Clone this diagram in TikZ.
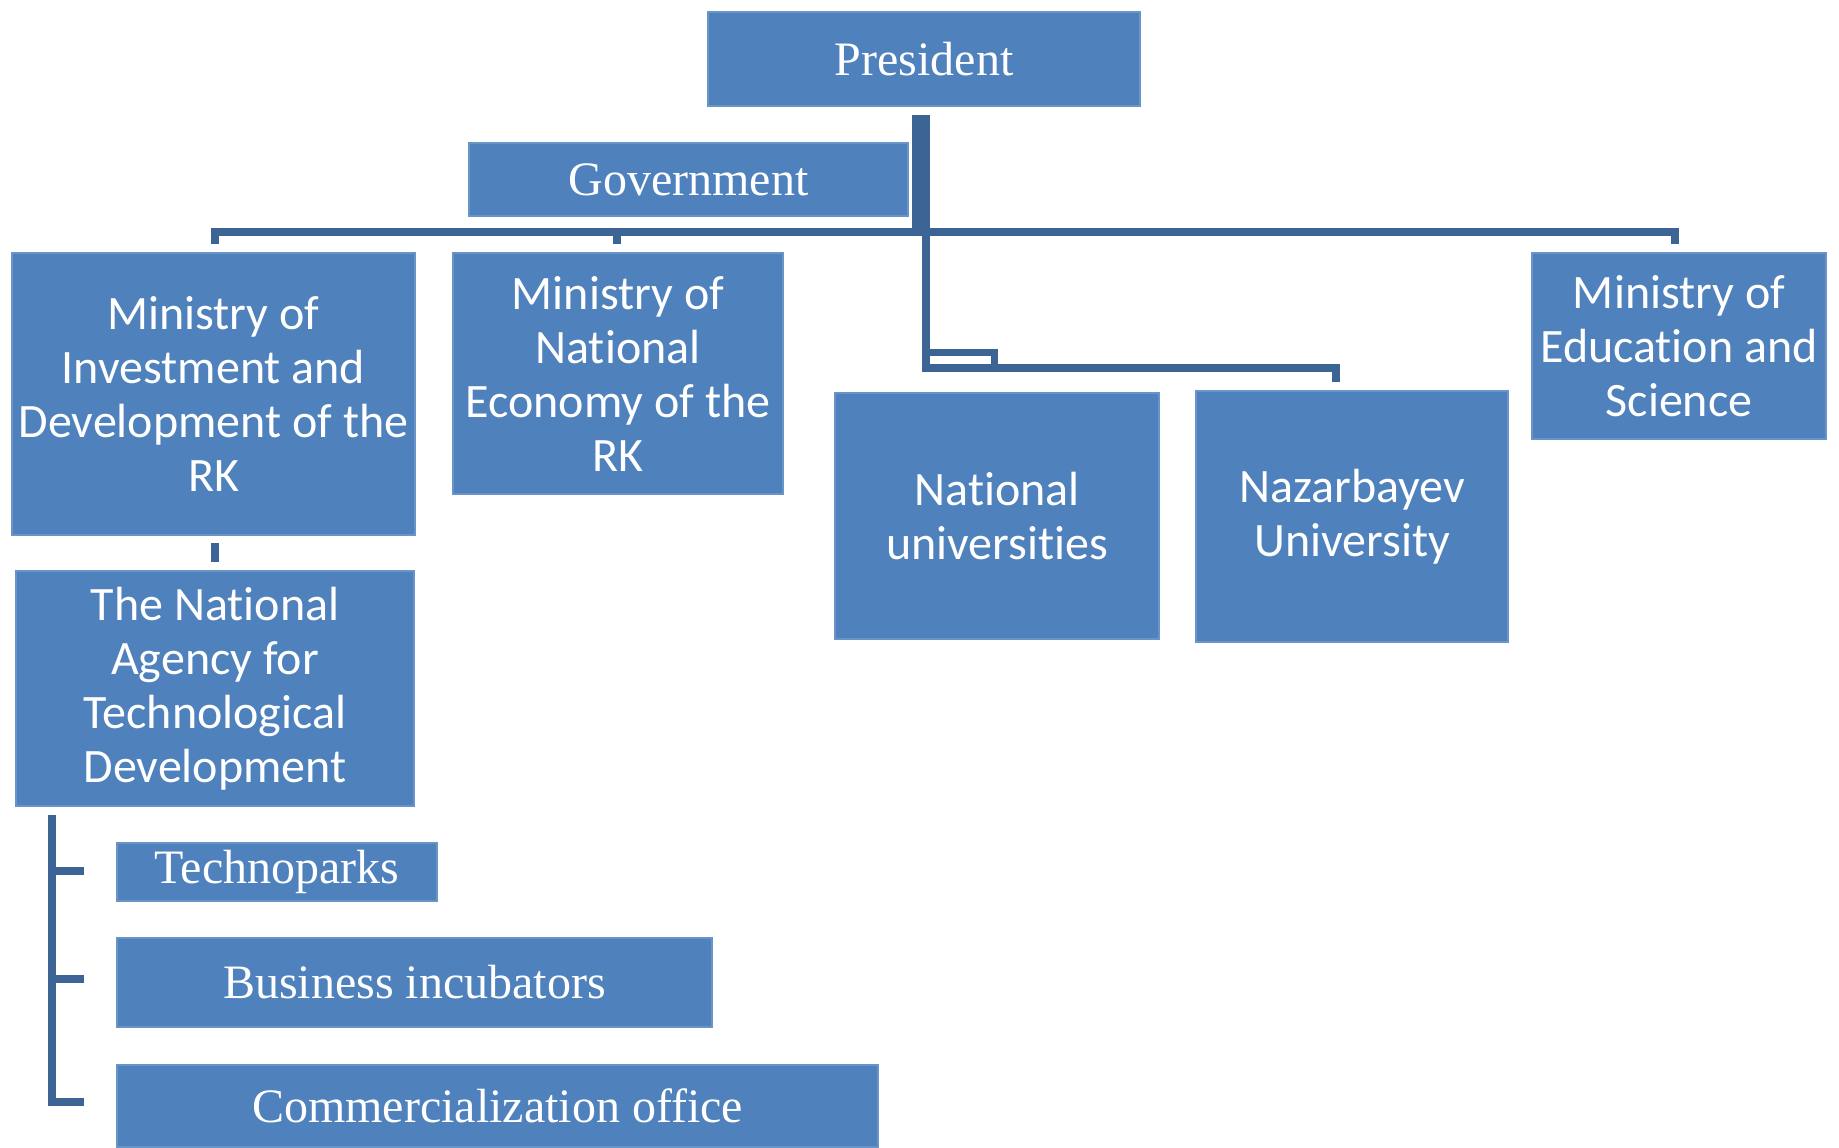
\documentclass[tikz,border=0pt]{standalone}
\usepackage{fontspec}
\setmainfont{Liberation Serif}
\newfontfamily\calibfont[Ligatures=NoCommon]{Carlito}
\definecolor{boxblue}{HTML}{4F81BD}
\definecolor{lineblue}{HTML}{3C6595}
\begin{document}
\begin{tikzpicture}[x=0.5pt,y=-0.5pt,
  box/.style={fill=boxblue, draw=boxblue!85!white, line width=0.6pt, text=white, inner sep=0pt, outer sep=0pt, align=center},
  serifbox/.style={box, font=\fontsize{24}{28}\selectfont},
  sansbox/.style={box, font=\calibfont\fontsize{24}{27}\selectfont},
  conn/.style={draw=lineblue, line width=4pt}]
\useasboundingbox (0,0) rectangle (1839,1147);
\node[serifbox, minimum width=216pt, minimum height=47pt] (pres) at (924,59) {President};
\node[serifbox, minimum width=219.5pt, minimum height=36.5pt] (gov) at (688.5,179.5) {Government};
\node[sansbox, minimum width=201.5pt, minimum height=141pt] (mid) at (213.5,394) {Ministry of\\Investment and\\Development of the\\RK};
\node[sansbox, minimum width=165pt, minimum height=120.5pt] (mne) at (618,373.5) {Ministry of\\National\\Economy of the\\RK};
\node[sansbox, minimum width=162pt, minimum height=123pt] (nu) at (997,516) {National\\universities};
\node[sansbox, minimum width=156pt, minimum height=125.5pt] (nazu) at (1352,516.5) {Nazarbayev\\University};
\node[sansbox, minimum width=147pt, minimum height=93pt] (mes) at (1679,346) {Ministry of\\Education and\\Science};
\node[sansbox, minimum width=199pt, minimum height=117.5pt] (natd) at (215,688.5) {The National\\Agency for\\Technological\\Development};
\node[serifbox, minimum width=160pt, minimum height=29pt] (tp) at (277,872) {Technoparks};
\node[serifbox, minimum width=297.5pt, minimum height=44.5pt] (bi) at (414.5,982.5) {Business incubators};
\node[serifbox, minimum width=380.5pt, minimum height=41pt] (co) at (497.5,1106) {Commercialization office};
% connector coordinates
\coordinate (trA) at (920,115);
\coordinate (trAend) at (920,234);
\coordinate (trB) at (926,115);
\coordinate (hL) at (215,232);
\coordinate (hR) at (1675,232);
\coordinate (tL) at (215,244);
\coordinate (tM1) at (617,232);
\coordinate (tM2) at (617,244);
\coordinate (tR) at (1675,244);
\coordinate (uJ) at (926,368);
\coordinate (uR) at (1336,368);
\coordinate (uRe) at (1336,382);
\coordinate (sA) at (926,352);
\coordinate (sB) at (994,352);
\coordinate (sC) at (994,368);
\coordinate (aT) at (215,543);
\coordinate (aB) at (215,562);
\coordinate (bT) at (52,815);
\coordinate (bB) at (52,1102);
\coordinate (bBe) at (84,1102);
\coordinate (b1) at (52,871);
\coordinate (b1e) at (84,871);
\coordinate (b2) at (52,979);
\coordinate (b2e) at (84,979);
% connectors
\draw[conn, line width=8pt] (trA) -- (trAend);
\draw[conn] (trB) -- (uJ) -- (uR) -- (uRe);
\draw[conn] (tL) -- (hL) -- (hR) -- (tR);
\draw[conn] (tM1) -- (tM2);
\draw[conn, line width=3.5pt] (sA) -- (sB) -- (sC);
\draw[conn] (aT) -- (aB);
\draw[conn] (bT) -- (bB) -- (bBe);
\draw[conn] (b1) -- (b1e);
\draw[conn] (b2) -- (b2e);
\end{tikzpicture}
\end{document}
